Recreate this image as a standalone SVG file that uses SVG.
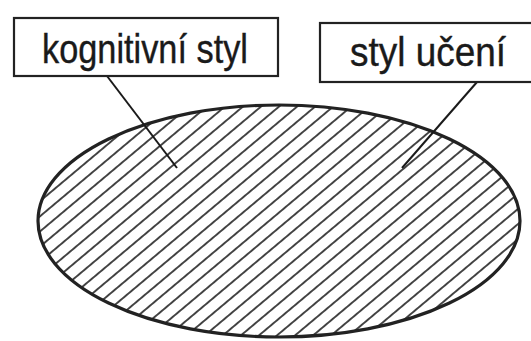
<svg xmlns="http://www.w3.org/2000/svg" width="531" height="341" viewBox="0 0 531 341">
<style>
.box{fill:#fff;stroke:#222;stroke-width:2.2}
.lbl{font-family:"Liberation Sans","DejaVu Sans",sans-serif;font-size:41px;fill:#1a1a1a;stroke:#1a1a1a;stroke-width:0.4}
.conn{stroke:#1a1a1a;stroke-width:2;fill:none}
</style>
<defs>
<pattern id="hatch" patternUnits="userSpaceOnUse" width="11.6" height="20" patternTransform="rotate(50)">
<line x1="5.8" y1="-5" x2="5.8" y2="25" stroke="#1a1a1a" stroke-width="1.6"/>
</pattern>
</defs>
<rect width="531" height="341" fill="#fff"/>
<g id="ellipse">
<ellipse cx="279" cy="221" rx="241" ry="116" fill="#fff"/>
<ellipse cx="279" cy="221" rx="241" ry="116" fill="url(#hatch)" stroke="#222" stroke-width="3.2"/>
</g>
<g id="connectors">
<line class="conn" x1="107" y1="76" x2="177" y2="168"/>
<line class="conn" x1="477" y1="82" x2="402" y2="168"/>
</g>
<g id="node-kognitivni">
<rect class="box" x="14" y="18" width="264" height="58"/>
<text class="lbl" x="42" y="63" textLength="206" lengthAdjust="spacingAndGlyphs">kognitivní styl</text>
</g>
<g id="node-styl-uceni">
<rect class="box" x="320" y="23" width="230" height="59"/>
<text class="lbl" x="350" y="66" textLength="156" lengthAdjust="spacingAndGlyphs">styl učení</text>
</g>
</svg>
